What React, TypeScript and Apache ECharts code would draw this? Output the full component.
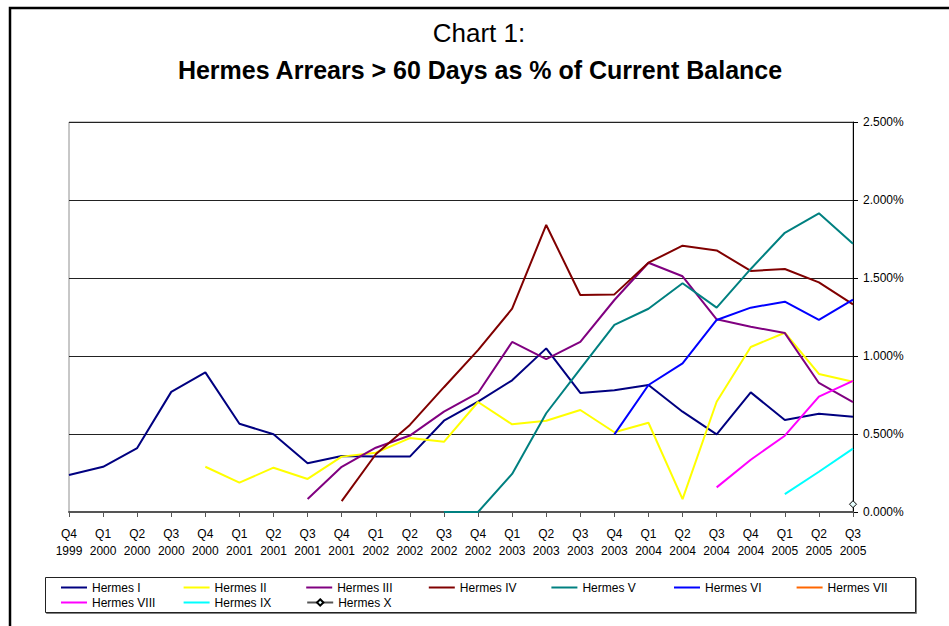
import React, { useEffect, useRef } from 'react';
import * as echarts from 'echarts';

const categories = [
  'Q4\n1999',
  'Q1\n2000', 'Q2\n2000', 'Q3\n2000', 'Q4\n2000',
  'Q1\n2001', 'Q2\n2001', 'Q3\n2001', 'Q4\n2001',
  'Q1\n2002', 'Q2\n2002', 'Q3\n2002', 'Q4\n2002',
  'Q1\n2003', 'Q2\n2003', 'Q3\n2003', 'Q4\n2003',
  'Q1\n2004', 'Q2\n2004', 'Q3\n2004', 'Q4\n2004',
  'Q1\n2005', 'Q2\n2005', 'Q3\n2005',
];

const yTicks = { min: 0, max: 2.5, interval: 0.5 };

// values in % of current balance; each series starts at the given category index
const hermesIStart = 0;
const hermesI = [0.237, 0.29, 0.41, 0.77, 0.895, 0.566, 0.498, 0.312, 0.359, 0.355, 0.355, 0.585, 0.707, 0.844, 1.049, 0.763, 0.78, 0.814, 0.643, 0.498, 0.767, 0.59, 0.63, 0.611];
const hermesIIStart = 4;
const hermesII = [0.29, 0.188, 0.284, 0.212, 0.355, 0.38, 0.474, 0.45, 0.705, 0.562, 0.585, 0.654, 0.511, 0.572, 0.083, 0.707, 1.058, 1.149, 0.885, 0.835];
const hermesIIIStart = 7;
const hermesIII = [0.083, 0.29, 0.412, 0.49, 0.643, 0.763, 1.09, 0.98, 1.09, 1.359, 1.598, 1.511, 1.235, 1.188, 1.147, 0.827, 0.705];
const hermesIVStart = 8;
const hermesIV = [0.07, 0.37, 0.558, 0.8, 1.038, 1.303, 1.84, 1.391, 1.395, 1.598, 1.707, 1.677, 1.545, 1.558, 1.472, 1.331];
const hermesVStart = 11;
const hermesV = [0, 0, 0.244, 0.633, 0.917, 1.2, 1.303, 1.466, 1.31, 1.558, 1.79, 1.915, 1.72];
const hermesVIStart = 16;
const hermesVI = [0.498, 0.814, 0.953, 1.231, 1.31, 1.348, 1.231, 1.361];
const hermesVIIStart = 24;
const hermesVII: number[] = [];
const hermesVIIIStart = 19;
const hermesVIII = [0.158, 0.335, 0.489, 0.739, 0.84];
const hermesIXStart = 21;
const hermesIX = [0.115, 0.258, 0.406];
const hermesXStart = 23;
const hermesX = [0.05];

const seriesNames = ['Hermes I', 'Hermes II', 'Hermes III', 'Hermes IV', 'Hermes V', 'Hermes VI', 'Hermes VII', 'Hermes VIII', 'Hermes IX', 'Hermes X'];
const seriesColors = ['#000080', '#FFFF00', '#800080', '#800000', '#008080', '#0000FF', '#FF6600', '#FF00FF', '#00FFFF', '#555555'];

const FONT = "'Liberation Sans', Arial, sans-serif";
const LINE_ICON = 'path://M0,0 L26,0 L26,2 L0,2 Z';

function place(start: number, values: number[]): (number | null)[] {
  const out: (number | null)[] = categories.map(() => null);
  values.forEach((v, i) => {
    if (start + i < out.length) out[start + i] = v;
  });
  return out;
}

export default function App() {
  const ref = useRef<HTMLDivElement>(null);

  useEffect(() => {
    if (!ref.current) return;
    const chart = echarts.init(ref.current, null, { renderer: 'svg' });

    const dataSets = [
      place(hermesIStart, hermesI),
      place(hermesIIStart, hermesII),
      place(hermesIIIStart, hermesIII),
      place(hermesIVStart, hermesIV),
      place(hermesVStart, hermesV),
      place(hermesVIStart, hermesVI),
      place(hermesVIIStart, hermesVII),
      place(hermesVIIIStart, hermesVIII),
      place(hermesIXStart, hermesIX),
      place(hermesXStart, hermesX),
    ];

    const series = seriesNames.map((name, i) => {
      const isX = name === 'Hermes X';
      return {
        name,
        type: 'line',
        data: dataSets[i],
        symbol: isX ? 'diamond' : 'none',
        symbolSize: isX ? 7 : 0,
        showSymbol: isX,
        connectNulls: false,
        color: seriesColors[i],
        lineStyle: { color: seriesColors[i], width: isX ? 1.5 : 2 },
        itemStyle: isX
          ? { color: '#E8FFFF', borderColor: '#000', borderWidth: 1 }
          : { color: seriesColors[i] },
        emphasis: { disabled: true },
        z: 3,
      };
    });

    const legendData = seriesNames.map((name) =>
      name === 'Hermes X' ? { name } : { name, icon: LINE_ICON }
    );

    chart.setOption({
      animation: false,
      textStyle: { fontFamily: FONT },
      grid: {
        left: 69,
        top: 122,
        width: 784,
        height: 390,
        show: true,
        borderColor: '#909090',
        borderWidth: 1,
        backgroundColor: 'transparent',
      },
      xAxis: {
        type: 'category',
        data: categories,
        boundaryGap: false,
        axisLine: { show: true, lineStyle: { color: '#555', width: 2 } },
        axisTick: { show: true, length: 5, lineStyle: { color: '#555', width: 1 } },
        axisLabel: {
          interval: 0,
          color: '#000',
          fontSize: 12,
          lineHeight: 17,
          margin: 13,
          fontFamily: FONT,
        },
        splitLine: { show: false },
      },
      yAxis: {
        type: 'value',
        position: 'right',
        min: yTicks.min,
        max: yTicks.max,
        interval: yTicks.interval,
        axisLine: { show: true, lineStyle: { color: '#000', width: 1 } },
        axisTick: { show: true, length: 5, lineStyle: { color: '#000' } },
        axisLabel: {
          color: '#000',
          fontSize: 12,
          margin: 10,
          fontFamily: FONT,
          formatter: (v: number) => v.toFixed(3) + '%',
        },
        splitLine: { show: true, lineStyle: { color: '#222', width: 1 } },
      },
      legend: {
        data: legendData,
        left: 61,
        top: 580,
        width: 900,
        orient: 'horizontal',
        itemWidth: 26,
        itemHeight: 8,
        itemGap: 0,
        padding: 0,
        selectedMode: false,
        symbolKeepAspect: true,
        textStyle: {
          color: '#000',
          fontSize: 12,
          lineHeight: 15,
          width: 91.6,
          fontFamily: FONT,
        },
      },
      graphic: [
        {
          type: 'rect',
          silent: true,
          z: -1,
          shape: { x: 10, y: 8, width: 960, height: 640 },
          style: { fill: 'none', stroke: '#000', lineWidth: 2.5 },
        },
        {
          type: 'rect',
          silent: true,
          z: -1,
          shape: { x: 45.5, y: 577.5, width: 870, height: 35 },
          style: { fill: '#fff', stroke: '#222', lineWidth: 1, shadowColor: 'rgba(0,0,0,0.5)', shadowOffsetX: 1, shadowOffsetY: 1 },
        },
        {
          type: 'text',
          silent: true,
          x: 479,
          y: 33,
          style: {
            text: 'Chart 1:',
            fontSize: 26,
            fontWeight: 'normal',
            fontFamily: FONT,
            fill: '#000',
            textAlign: 'center',
            textVerticalAlign: 'middle',
          },
        },
        {
          type: 'text',
          silent: true,
          x: 480,
          y: 70,
          style: {
            text: 'Hermes Arrears > 60 Days as % of Current Balance',
            fontSize: 25,
            fontWeight: 'bold',
            fontFamily: FONT,
            fill: '#000',
            textAlign: 'center',
            textVerticalAlign: 'middle',
          },
        },
      ],
      series,
    });

    return () => chart.dispose();
  }, []);

  return (
    <div
      ref={ref}
      style={{ position: 'absolute', left: 0, top: 0, width: 949, height: 626, background: '#fff' }}
    />
  );
}
